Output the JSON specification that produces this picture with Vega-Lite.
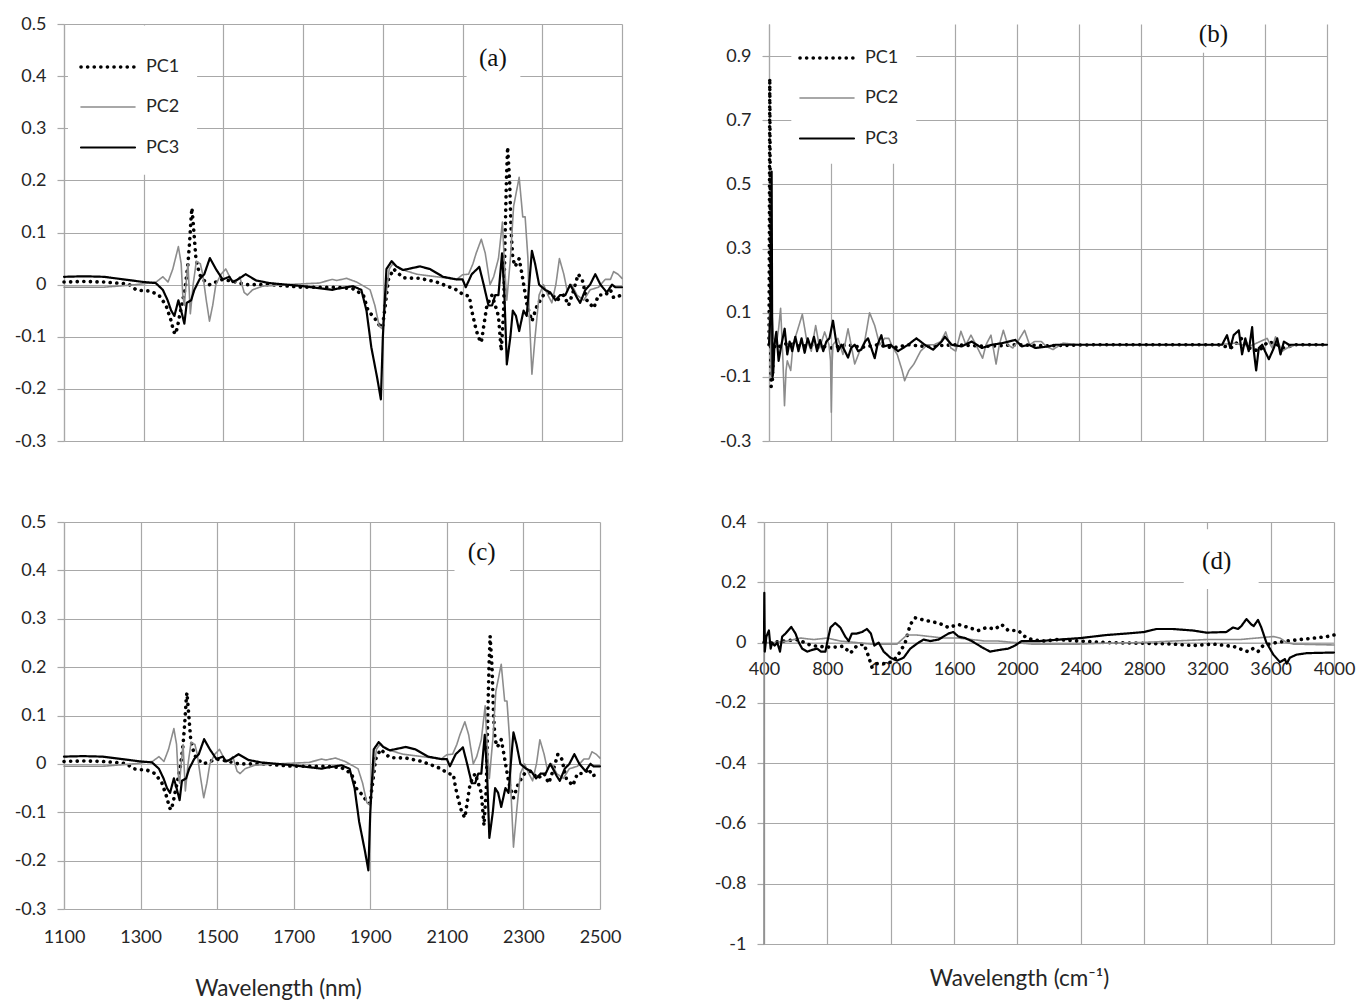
{
  "$schema": "https://vega.github.io/schema/vega-lite/v6.json",
  "background": "white",
  "padding": {"left": 14, "top": 15, "right": 5, "bottom": 5},
  "config": {
    "view": {"stroke": null},
    "axis": {
      "gridColor": "#a8a8a8", "gridWidth": 1.2, "domainColor": "#a8a8a8", "domainWidth": 1.2,
      "tickColor": "#a8a8a8", "tickWidth": 1.2, "labelFlush": false,
      "labelFont": "Lato", "labelFontSize": 18, "labelColor": "#262626",
      "titleFont": "Lato", "titleFontSize": 22.5, "titleFontWeight": "normal", "titleColor": "#262626"
    },
    "legend": {"labelFont": "Lato", "labelFontSize": 18, "labelColor": "#262626"},
    "text": {"font": "Liberation Serif", "fontSize": 25, "color": "#111"}
  },
  "datasets": {
    "nir": [
      {"x":1100,"v":0.005,"pc":"PC1"},{"x":1150,"v":0.006,"pc":"PC1"},{"x":1200,"v":0.005,"pc":"PC1"},{"x":1250,"v":0.002,"pc":"PC1"},{"x":1264,"v":0.0,"pc":"PC1"},{"x":1281,"v":-0.01,"pc":"PC1"},{"x":1300,"v":-0.012,"pc":"PC1"},{"x":1314,"v":-0.012,"pc":"PC1"},{"x":1338,"v":-0.02,"pc":"PC1"},{"x":1356,"v":-0.04,"pc":"PC1"},{"x":1369,"v":-0.07,"pc":"PC1"},{"x":1375,"v":-0.09,"pc":"PC1"},{"x":1380,"v":-0.095,"pc":"PC1"},{"x":1385,"v":-0.08,"pc":"PC1"},{"x":1390,"v":-0.06,"pc":"PC1"},{"x":1398,"v":-0.03,"pc":"PC1"},{"x":1405,"v":0.0,"pc":"PC1"},{"x":1411,"v":0.04,"pc":"PC1"},{"x":1415,"v":0.08,"pc":"PC1"},{"x":1419,"v":0.13,"pc":"PC1"},{"x":1421,"v":0.147,"pc":"PC1"},{"x":1424,"v":0.12,"pc":"PC1"},{"x":1427,"v":0.09,"pc":"PC1"},{"x":1431,"v":0.05,"pc":"PC1"},{"x":1440,"v":0.02,"pc":"PC1"},{"x":1448,"v":0.01,"pc":"PC1"},{"x":1465,"v":0.0,"pc":"PC1"},{"x":1481,"v":0.005,"pc":"PC1"},{"x":1498,"v":0.01,"pc":"PC1"},{"x":1531,"v":0.005,"pc":"PC1"},{"x":1556,"v":0.0,"pc":"PC1"},{"x":1615,"v":0.0,"pc":"PC1"},{"x":1698,"v":-0.005,"pc":"PC1"},{"x":1784,"v":-0.005,"pc":"PC1"},{"x":1825,"v":-0.008,"pc":"PC1"},{"x":1851,"v":-0.02,"pc":"PC1"},{"x":1863,"v":-0.05,"pc":"PC1"},{"x":1880,"v":-0.065,"pc":"PC1"},{"x":1893,"v":-0.08,"pc":"PC1"},{"x":1899,"v":-0.082,"pc":"PC1"},{"x":1906,"v":-0.04,"pc":"PC1"},{"x":1914,"v":0.01,"pc":"PC1"},{"x":1927,"v":0.03,"pc":"PC1"},{"x":1951,"v":0.013,"pc":"PC1"},{"x":1993,"v":0.012,"pc":"PC1"},{"x":2035,"v":0.005,"pc":"PC1"},{"x":2068,"v":-0.005,"pc":"PC1"},{"x":2085,"v":-0.01,"pc":"PC1"},{"x":2103,"v":-0.02,"pc":"PC1"},{"x":2117,"v":-0.022,"pc":"PC1"},{"x":2123,"v":-0.05,"pc":"PC1"},{"x":2132,"v":-0.08,"pc":"PC1"},{"x":2139,"v":-0.1,"pc":"PC1"},{"x":2147,"v":-0.111,"pc":"PC1"},{"x":2153,"v":-0.08,"pc":"PC1"},{"x":2161,"v":-0.04,"pc":"PC1"},{"x":2174,"v":-0.02,"pc":"PC1"},{"x":2182,"v":-0.04,"pc":"PC1"},{"x":2190,"v":-0.06,"pc":"PC1"},{"x":2197,"v":-0.127,"pc":"PC1"},{"x":2203,"v":-0.05,"pc":"PC1"},{"x":2207,"v":0.1,"pc":"PC1"},{"x":2210,"v":0.2,"pc":"PC1"},{"x":2213,"v":0.264,"pc":"PC1"},{"x":2218,"v":0.2,"pc":"PC1"},{"x":2222,"v":0.1,"pc":"PC1"},{"x":2226,"v":0.05,"pc":"PC1"},{"x":2232,"v":0.035,"pc":"PC1"},{"x":2242,"v":0.05,"pc":"PC1"},{"x":2249,"v":0.02,"pc":"PC1"},{"x":2262,"v":-0.04,"pc":"PC1"},{"x":2274,"v":-0.07,"pc":"PC1"},{"x":2287,"v":-0.04,"pc":"PC1"},{"x":2303,"v":-0.02,"pc":"PC1"},{"x":2320,"v":-0.015,"pc":"PC1"},{"x":2337,"v":-0.03,"pc":"PC1"},{"x":2354,"v":-0.02,"pc":"PC1"},{"x":2366,"v":-0.04,"pc":"PC1"},{"x":2379,"v":-0.01,"pc":"PC1"},{"x":2390,"v":0.02,"pc":"PC1"},{"x":2400,"v":0.01,"pc":"PC1"},{"x":2412,"v":-0.03,"pc":"PC1"},{"x":2429,"v":-0.045,"pc":"PC1"},{"x":2441,"v":-0.02,"pc":"PC1"},{"x":2458,"v":-0.02,"pc":"PC1"},{"x":2471,"v":-0.01,"pc":"PC1"},{"x":2479,"v":-0.025,"pc":"PC1"},{"x":2500,"v":-0.02,"pc":"PC1"},
      {"x":1100,"v":-0.005,"pc":"PC2"},{"x":1200,"v":-0.005,"pc":"PC2"},{"x":1281,"v":0.0,"pc":"PC2"},{"x":1331,"v":0.005,"pc":"PC2"},{"x":1348,"v":0.015,"pc":"PC2"},{"x":1361,"v":0.005,"pc":"PC2"},{"x":1373,"v":0.03,"pc":"PC2"},{"x":1387,"v":0.073,"pc":"PC2"},{"x":1394,"v":0.04,"pc":"PC2"},{"x":1398,"v":-0.02,"pc":"PC2"},{"x":1402,"v":-0.04,"pc":"PC2"},{"x":1406,"v":0.0,"pc":"PC2"},{"x":1411,"v":0.04,"pc":"PC2"},{"x":1417,"v":-0.056,"pc":"PC2"},{"x":1424,"v":0.0,"pc":"PC2"},{"x":1432,"v":0.045,"pc":"PC2"},{"x":1442,"v":0.04,"pc":"PC2"},{"x":1448,"v":0.02,"pc":"PC2"},{"x":1457,"v":-0.03,"pc":"PC2"},{"x":1465,"v":-0.07,"pc":"PC2"},{"x":1473,"v":-0.04,"pc":"PC2"},{"x":1481,"v":0.0,"pc":"PC2"},{"x":1494,"v":0.02,"pc":"PC2"},{"x":1506,"v":0.03,"pc":"PC2"},{"x":1519,"v":0.01,"pc":"PC2"},{"x":1531,"v":0.005,"pc":"PC2"},{"x":1541,"v":0.015,"pc":"PC2"},{"x":1552,"v":-0.015,"pc":"PC2"},{"x":1560,"v":-0.02,"pc":"PC2"},{"x":1573,"v":-0.01,"pc":"PC2"},{"x":1598,"v":-0.003,"pc":"PC2"},{"x":1656,"v":0.0,"pc":"PC2"},{"x":1740,"v":0.003,"pc":"PC2"},{"x":1773,"v":0.01,"pc":"PC2"},{"x":1784,"v":0.008,"pc":"PC2"},{"x":1809,"v":0.012,"pc":"PC2"},{"x":1834,"v":0.005,"pc":"PC2"},{"x":1868,"v":-0.01,"pc":"PC2"},{"x":1880,"v":-0.04,"pc":"PC2"},{"x":1891,"v":-0.08,"pc":"PC2"},{"x":1899,"v":-0.085,"pc":"PC2"},{"x":1908,"v":-0.02,"pc":"PC2"},{"x":1916,"v":0.03,"pc":"PC2"},{"x":1925,"v":0.04,"pc":"PC2"},{"x":1943,"v":0.03,"pc":"PC2"},{"x":1985,"v":0.02,"pc":"PC2"},{"x":2035,"v":0.015,"pc":"PC2"},{"x":2085,"v":0.01,"pc":"PC2"},{"x":2100,"v":0.019,"pc":"PC2"},{"x":2115,"v":0.02,"pc":"PC2"},{"x":2126,"v":0.04,"pc":"PC2"},{"x":2134,"v":0.06,"pc":"PC2"},{"x":2147,"v":0.087,"pc":"PC2"},{"x":2157,"v":0.06,"pc":"PC2"},{"x":2169,"v":0.0,"pc":"PC2"},{"x":2178,"v":0.015,"pc":"PC2"},{"x":2190,"v":0.05,"pc":"PC2"},{"x":2200,"v":0.12,"pc":"PC2"},{"x":2205,"v":0.04,"pc":"PC2"},{"x":2211,"v":-0.03,"pc":"PC2"},{"x":2220,"v":0.05,"pc":"PC2"},{"x":2228,"v":0.15,"pc":"PC2"},{"x":2242,"v":0.206,"pc":"PC2"},{"x":2251,"v":0.13,"pc":"PC2"},{"x":2257,"v":0.13,"pc":"PC2"},{"x":2264,"v":0.05,"pc":"PC2"},{"x":2267,"v":-0.05,"pc":"PC2"},{"x":2274,"v":-0.172,"pc":"PC2"},{"x":2282,"v":-0.1,"pc":"PC2"},{"x":2292,"v":-0.02,"pc":"PC2"},{"x":2303,"v":0.0,"pc":"PC2"},{"x":2314,"v":-0.02,"pc":"PC2"},{"x":2324,"v":-0.035,"pc":"PC2"},{"x":2334,"v":0.0,"pc":"PC2"},{"x":2343,"v":0.05,"pc":"PC2"},{"x":2354,"v":0.02,"pc":"PC2"},{"x":2362,"v":-0.01,"pc":"PC2"},{"x":2374,"v":0.0,"pc":"PC2"},{"x":2387,"v":-0.02,"pc":"PC2"},{"x":2404,"v":-0.03,"pc":"PC2"},{"x":2420,"v":-0.01,"pc":"PC2"},{"x":2441,"v":-0.005,"pc":"PC2"},{"x":2458,"v":0.01,"pc":"PC2"},{"x":2471,"v":0.01,"pc":"PC2"},{"x":2479,"v":0.025,"pc":"PC2"},{"x":2490,"v":0.02,"pc":"PC2"},{"x":2500,"v":0.012,"pc":"PC2"},
      {"x":1100,"v":0.015,"pc":"PC3"},{"x":1150,"v":0.016,"pc":"PC3"},{"x":1200,"v":0.015,"pc":"PC3"},{"x":1250,"v":0.01,"pc":"PC3"},{"x":1300,"v":0.005,"pc":"PC3"},{"x":1330,"v":0.003,"pc":"PC3"},{"x":1348,"v":-0.01,"pc":"PC3"},{"x":1360,"v":-0.03,"pc":"PC3"},{"x":1369,"v":-0.05,"pc":"PC3"},{"x":1377,"v":-0.06,"pc":"PC3"},{"x":1387,"v":-0.03,"pc":"PC3"},{"x":1394,"v":-0.05,"pc":"PC3"},{"x":1402,"v":-0.075,"pc":"PC3"},{"x":1408,"v":-0.035,"pc":"PC3"},{"x":1419,"v":-0.03,"pc":"PC3"},{"x":1427,"v":-0.01,"pc":"PC3"},{"x":1440,"v":0.01,"pc":"PC3"},{"x":1452,"v":0.02,"pc":"PC3"},{"x":1466,"v":0.051,"pc":"PC3"},{"x":1481,"v":0.03,"pc":"PC3"},{"x":1498,"v":0.01,"pc":"PC3"},{"x":1515,"v":0.015,"pc":"PC3"},{"x":1523,"v":0.005,"pc":"PC3"},{"x":1536,"v":0.01,"pc":"PC3"},{"x":1556,"v":0.02,"pc":"PC3"},{"x":1582,"v":0.008,"pc":"PC3"},{"x":1615,"v":0.003,"pc":"PC3"},{"x":1657,"v":0.0,"pc":"PC3"},{"x":1700,"v":-0.003,"pc":"PC3"},{"x":1773,"v":-0.01,"pc":"PC3"},{"x":1784,"v":-0.008,"pc":"PC3"},{"x":1825,"v":-0.003,"pc":"PC3"},{"x":1846,"v":-0.01,"pc":"PC3"},{"x":1859,"v":-0.05,"pc":"PC3"},{"x":1871,"v":-0.12,"pc":"PC3"},{"x":1886,"v":-0.18,"pc":"PC3"},{"x":1895,"v":-0.22,"pc":"PC3"},{"x":1900,"v":-0.1,"pc":"PC3"},{"x":1909,"v":0.03,"pc":"PC3"},{"x":1922,"v":0.045,"pc":"PC3"},{"x":1934,"v":0.035,"pc":"PC3"},{"x":1951,"v":0.028,"pc":"PC3"},{"x":1993,"v":0.035,"pc":"PC3"},{"x":2018,"v":0.03,"pc":"PC3"},{"x":2051,"v":0.015,"pc":"PC3"},{"x":2085,"v":0.01,"pc":"PC3"},{"x":2100,"v":0.01,"pc":"PC3"},{"x":2108,"v":-0.005,"pc":"PC3"},{"x":2123,"v":0.02,"pc":"PC3"},{"x":2142,"v":0.034,"pc":"PC3"},{"x":2153,"v":0.0,"pc":"PC3"},{"x":2165,"v":-0.04,"pc":"PC3"},{"x":2174,"v":-0.04,"pc":"PC3"},{"x":2182,"v":-0.02,"pc":"PC3"},{"x":2190,"v":-0.02,"pc":"PC3"},{"x":2199,"v":0.06,"pc":"PC3"},{"x":2205,"v":-0.02,"pc":"PC3"},{"x":2211,"v":-0.153,"pc":"PC3"},{"x":2220,"v":-0.1,"pc":"PC3"},{"x":2226,"v":-0.05,"pc":"PC3"},{"x":2234,"v":-0.06,"pc":"PC3"},{"x":2242,"v":-0.089,"pc":"PC3"},{"x":2253,"v":-0.05,"pc":"PC3"},{"x":2261,"v":-0.06,"pc":"PC3"},{"x":2267,"v":0.0,"pc":"PC3"},{"x":2274,"v":0.065,"pc":"PC3"},{"x":2282,"v":0.04,"pc":"PC3"},{"x":2292,"v":0.0,"pc":"PC3"},{"x":2307,"v":-0.01,"pc":"PC3"},{"x":2320,"v":-0.015,"pc":"PC3"},{"x":2333,"v":-0.03,"pc":"PC3"},{"x":2345,"v":-0.02,"pc":"PC3"},{"x":2358,"v":-0.02,"pc":"PC3"},{"x":2370,"v":0.0,"pc":"PC3"},{"x":2377,"v":-0.01,"pc":"PC3"},{"x":2387,"v":-0.025,"pc":"PC3"},{"x":2395,"v":-0.035,"pc":"PC3"},{"x":2408,"v":-0.01,"pc":"PC3"},{"x":2420,"v":0.0,"pc":"PC3"},{"x":2433,"v":0.02,"pc":"PC3"},{"x":2446,"v":0.0,"pc":"PC3"},{"x":2462,"v":-0.015,"pc":"PC3"},{"x":2475,"v":0.0,"pc":"PC3"},{"x":2483,"v":-0.005,"pc":"PC3"},{"x":2500,"v":-0.005,"pc":"PC3"}
    ],
    "mirb": [
      {"x":400,"v":0.0,"pc":"PC1"},{"x":402,"v":0.3,"pc":"PC1"},{"x":405,"v":0.83,"pc":"PC1"},{"x":408,"v":0.5,"pc":"PC1"},{"x":411,"v":0.0,"pc":"PC1"},{"x":414,"v":-0.13,"pc":"PC1"},{"x":418,"v":-0.08,"pc":"PC1"},{"x":422,"v":-0.11,"pc":"PC1"},{"x":428,"v":-0.02,"pc":"PC1"},{"x":440,"v":0.0,"pc":"PC1"},{"x":470,"v":-0.005,"pc":"PC1"},{"x":520,"v":0.005,"pc":"PC1"},{"x":600,"v":-0.005,"pc":"PC1"},{"x":700,"v":0.0,"pc":"PC1"},{"x":800,"v":-0.01,"pc":"PC1"},{"x":900,"v":0.0,"pc":"PC1"},{"x":1000,"v":-0.008,"pc":"PC1"},{"x":1100,"v":0.0,"pc":"PC1"},{"x":1200,"v":-0.01,"pc":"PC1"},{"x":1300,"v":0.0,"pc":"PC1"},{"x":1400,"v":-0.005,"pc":"PC1"},{"x":1600,"v":0.0,"pc":"PC1"},{"x":1800,"v":-0.005,"pc":"PC1"},{"x":2000,"v":0.0,"pc":"PC1"},{"x":2200,"v":-0.003,"pc":"PC1"},{"x":2500,"v":0.0,"pc":"PC1"},{"x":3000,"v":0.0,"pc":"PC1"},{"x":3300,"v":0.0,"pc":"PC1"},{"x":3380,"v":-0.01,"pc":"PC1"},{"x":3450,"v":0.02,"pc":"PC1"},{"x":3500,"v":-0.01,"pc":"PC1"},{"x":3560,"v":-0.02,"pc":"PC1"},{"x":3620,"v":0.01,"pc":"PC1"},{"x":3680,"v":0.0,"pc":"PC1"},{"x":3720,"v":-0.01,"pc":"PC1"},{"x":3800,"v":0.0,"pc":"PC1"},{"x":4000,"v":0.0,"pc":"PC1"},
      {"x":400,"v":0.0,"pc":"PC2"},{"x":404,"v":0.1,"pc":"PC2"},{"x":408,"v":0.05,"pc":"PC2"},{"x":414,"v":-0.1,"pc":"PC2"},{"x":419,"v":0.1,"pc":"PC2"},{"x":430,"v":0.02,"pc":"PC2"},{"x":447,"v":0.0,"pc":"PC2"},{"x":462,"v":0.05,"pc":"PC2"},{"x":475,"v":0.114,"pc":"PC2"},{"x":490,"v":-0.05,"pc":"PC2"},{"x":500,"v":-0.19,"pc":"PC2"},{"x":510,"v":-0.08,"pc":"PC2"},{"x":518,"v":-0.05,"pc":"PC2"},{"x":540,"v":-0.08,"pc":"PC2"},{"x":555,"v":0.0,"pc":"PC2"},{"x":587,"v":0.05,"pc":"PC2"},{"x":615,"v":0.095,"pc":"PC2"},{"x":641,"v":0.02,"pc":"PC2"},{"x":673,"v":-0.02,"pc":"PC2"},{"x":701,"v":0.06,"pc":"PC2"},{"x":727,"v":-0.01,"pc":"PC2"},{"x":759,"v":0.04,"pc":"PC2"},{"x":787,"v":0.0,"pc":"PC2"},{"x":797,"v":-0.05,"pc":"PC2"},{"x":802,"v":-0.21,"pc":"PC2"},{"x":808,"v":-0.05,"pc":"PC2"},{"x":813,"v":0.0,"pc":"PC2"},{"x":845,"v":0.02,"pc":"PC2"},{"x":877,"v":-0.03,"pc":"PC2"},{"x":910,"v":0.05,"pc":"PC2"},{"x":953,"v":-0.06,"pc":"PC2"},{"x":985,"v":-0.02,"pc":"PC2"},{"x":1017,"v":0.01,"pc":"PC2"},{"x":1049,"v":0.1,"pc":"PC2"},{"x":1082,"v":0.06,"pc":"PC2"},{"x":1114,"v":0.0,"pc":"PC2"},{"x":1146,"v":0.02,"pc":"PC2"},{"x":1173,"v":0.02,"pc":"PC2"},{"x":1200,"v":-0.01,"pc":"PC2"},{"x":1227,"v":-0.03,"pc":"PC2"},{"x":1259,"v":-0.08,"pc":"PC2"},{"x":1275,"v":-0.112,"pc":"PC2"},{"x":1303,"v":-0.08,"pc":"PC2"},{"x":1335,"v":-0.06,"pc":"PC2"},{"x":1378,"v":-0.02,"pc":"PC2"},{"x":1421,"v":0.0,"pc":"PC2"},{"x":1465,"v":0.0,"pc":"PC2"},{"x":1508,"v":0.01,"pc":"PC2"},{"x":1540,"v":0.04,"pc":"PC2"},{"x":1573,"v":-0.01,"pc":"PC2"},{"x":1605,"v":-0.02,"pc":"PC2"},{"x":1638,"v":0.042,"pc":"PC2"},{"x":1670,"v":0.0,"pc":"PC2"},{"x":1703,"v":0.03,"pc":"PC2"},{"x":1735,"v":0.0,"pc":"PC2"},{"x":1778,"v":-0.042,"pc":"PC2"},{"x":1800,"v":0.0,"pc":"PC2"},{"x":1832,"v":0.03,"pc":"PC2"},{"x":1865,"v":-0.06,"pc":"PC2"},{"x":1886,"v":0.0,"pc":"PC2"},{"x":1912,"v":0.045,"pc":"PC2"},{"x":1940,"v":0.0,"pc":"PC2"},{"x":1973,"v":-0.01,"pc":"PC2"},{"x":2005,"v":0.01,"pc":"PC2"},{"x":2049,"v":0.045,"pc":"PC2"},{"x":2081,"v":0.0,"pc":"PC2"},{"x":2113,"v":0.01,"pc":"PC2"},{"x":2157,"v":0.01,"pc":"PC2"},{"x":2189,"v":-0.005,"pc":"PC2"},{"x":2232,"v":-0.015,"pc":"PC2"},{"x":2297,"v":0.005,"pc":"PC2"},{"x":2400,"v":0.0,"pc":"PC2"},{"x":3300,"v":0.0,"pc":"PC2"},{"x":3400,"v":0.005,"pc":"PC2"},{"x":3500,"v":-0.005,"pc":"PC2"},{"x":3614,"v":0.02,"pc":"PC2"},{"x":3646,"v":-0.01,"pc":"PC2"},{"x":3668,"v":0.025,"pc":"PC2"},{"x":3711,"v":-0.02,"pc":"PC2"},{"x":3743,"v":-0.01,"pc":"PC2"},{"x":3800,"v":0.0,"pc":"PC2"},{"x":4000,"v":0.0,"pc":"PC2"},
      {"x":400,"v":0.0,"pc":"PC3"},{"x":410,"v":0.1,"pc":"PC3"},{"x":417,"v":0.54,"pc":"PC3"},{"x":420,"v":0.1,"pc":"PC3"},{"x":423,"v":-0.1,"pc":"PC3"},{"x":428,"v":-0.08,"pc":"PC3"},{"x":435,"v":0.0,"pc":"PC3"},{"x":447,"v":0.04,"pc":"PC3"},{"x":462,"v":-0.05,"pc":"PC3"},{"x":480,"v":0.0,"pc":"PC3"},{"x":501,"v":0.05,"pc":"PC3"},{"x":518,"v":-0.03,"pc":"PC3"},{"x":533,"v":0.01,"pc":"PC3"},{"x":550,"v":-0.02,"pc":"PC3"},{"x":570,"v":0.025,"pc":"PC3"},{"x":590,"v":-0.02,"pc":"PC3"},{"x":610,"v":0.02,"pc":"PC3"},{"x":630,"v":-0.025,"pc":"PC3"},{"x":650,"v":0.02,"pc":"PC3"},{"x":670,"v":-0.01,"pc":"PC3"},{"x":690,"v":0.025,"pc":"PC3"},{"x":710,"v":-0.02,"pc":"PC3"},{"x":730,"v":0.015,"pc":"PC3"},{"x":750,"v":-0.02,"pc":"PC3"},{"x":770,"v":0.01,"pc":"PC3"},{"x":790,"v":0.02,"pc":"PC3"},{"x":813,"v":0.075,"pc":"PC3"},{"x":830,"v":0.02,"pc":"PC3"},{"x":845,"v":-0.02,"pc":"PC3"},{"x":867,"v":0.0,"pc":"PC3"},{"x":890,"v":-0.02,"pc":"PC3"},{"x":910,"v":-0.04,"pc":"PC3"},{"x":930,"v":-0.01,"pc":"PC3"},{"x":953,"v":0.0,"pc":"PC3"},{"x":975,"v":-0.02,"pc":"PC3"},{"x":996,"v":-0.015,"pc":"PC3"},{"x":1020,"v":0.01,"pc":"PC3"},{"x":1039,"v":0.02,"pc":"PC3"},{"x":1060,"v":-0.01,"pc":"PC3"},{"x":1082,"v":-0.042,"pc":"PC3"},{"x":1100,"v":0.0,"pc":"PC3"},{"x":1125,"v":0.03,"pc":"PC3"},{"x":1141,"v":-0.005,"pc":"PC3"},{"x":1184,"v":0.0,"pc":"PC3"},{"x":1232,"v":-0.02,"pc":"PC3"},{"x":1297,"v":0.0,"pc":"PC3"},{"x":1351,"v":0.02,"pc":"PC3"},{"x":1405,"v":0.0,"pc":"PC3"},{"x":1459,"v":-0.015,"pc":"PC3"},{"x":1514,"v":0.01,"pc":"PC3"},{"x":1535,"v":0.025,"pc":"PC3"},{"x":1578,"v":0.0,"pc":"PC3"},{"x":1643,"v":-0.005,"pc":"PC3"},{"x":1708,"v":0.01,"pc":"PC3"},{"x":1773,"v":-0.01,"pc":"PC3"},{"x":1838,"v":0.0,"pc":"PC3"},{"x":1903,"v":0.005,"pc":"PC3"},{"x":1989,"v":0.015,"pc":"PC3"},{"x":2032,"v":-0.005,"pc":"PC3"},{"x":2076,"v":0.0,"pc":"PC3"},{"x":2119,"v":-0.01,"pc":"PC3"},{"x":2205,"v":-0.005,"pc":"PC3"},{"x":2248,"v":0.0,"pc":"PC3"},{"x":3323,"v":0.0,"pc":"PC3"},{"x":3355,"v":0.03,"pc":"PC3"},{"x":3376,"v":-0.01,"pc":"PC3"},{"x":3398,"v":0.03,"pc":"PC3"},{"x":3431,"v":0.045,"pc":"PC3"},{"x":3452,"v":-0.03,"pc":"PC3"},{"x":3473,"v":0.02,"pc":"PC3"},{"x":3495,"v":-0.02,"pc":"PC3"},{"x":3517,"v":0.055,"pc":"PC3"},{"x":3528,"v":-0.02,"pc":"PC3"},{"x":3543,"v":-0.08,"pc":"PC3"},{"x":3560,"v":-0.01,"pc":"PC3"},{"x":3582,"v":0.0,"pc":"PC3"},{"x":3600,"v":-0.02,"pc":"PC3"},{"x":3625,"v":-0.045,"pc":"PC3"},{"x":3657,"v":-0.01,"pc":"PC3"},{"x":3679,"v":0.02,"pc":"PC3"},{"x":3700,"v":-0.03,"pc":"PC3"},{"x":3722,"v":0.01,"pc":"PC3"},{"x":3754,"v":0.0,"pc":"PC3"},{"x":4000,"v":0.0,"pc":"PC3"}
    ],
    "mird": [
      {"x":400,"v":0.0,"pc":"PC1"},{"x":440,"v":0.0,"pc":"PC1"},{"x":520,"v":0.005,"pc":"PC1"},{"x":610,"v":0.01,"pc":"PC1"},{"x":700,"v":-0.01,"pc":"PC1"},{"x":799,"v":-0.015,"pc":"PC1"},{"x":850,"v":-0.015,"pc":"PC1"},{"x":900,"v":-0.012,"pc":"PC1"},{"x":946,"v":-0.035,"pc":"PC1"},{"x":987,"v":-0.01,"pc":"PC1"},{"x":1030,"v":-0.005,"pc":"PC1"},{"x":1050,"v":-0.03,"pc":"PC1"},{"x":1082,"v":-0.082,"pc":"PC1"},{"x":1113,"v":-0.07,"pc":"PC1"},{"x":1177,"v":-0.07,"pc":"PC1"},{"x":1219,"v":-0.06,"pc":"PC1"},{"x":1261,"v":-0.03,"pc":"PC1"},{"x":1292,"v":0.0,"pc":"PC1"},{"x":1324,"v":0.06,"pc":"PC1"},{"x":1355,"v":0.082,"pc":"PC1"},{"x":1408,"v":0.075,"pc":"PC1"},{"x":1450,"v":0.07,"pc":"PC1"},{"x":1502,"v":0.065,"pc":"PC1"},{"x":1565,"v":0.05,"pc":"PC1"},{"x":1628,"v":0.06,"pc":"PC1"},{"x":1691,"v":0.05,"pc":"PC1"},{"x":1754,"v":0.04,"pc":"PC1"},{"x":1806,"v":0.05,"pc":"PC1"},{"x":1859,"v":0.045,"pc":"PC1"},{"x":1901,"v":0.06,"pc":"PC1"},{"x":1943,"v":0.04,"pc":"PC1"},{"x":2006,"v":0.04,"pc":"PC1"},{"x":2048,"v":0.02,"pc":"PC1"},{"x":2090,"v":0.01,"pc":"PC1"},{"x":2174,"v":0.005,"pc":"PC1"},{"x":2246,"v":0.01,"pc":"PC1"},{"x":2394,"v":0.005,"pc":"PC1"},{"x":2562,"v":0.0,"pc":"PC1"},{"x":2773,"v":-0.002,"pc":"PC1"},{"x":2983,"v":-0.005,"pc":"PC1"},{"x":3109,"v":-0.01,"pc":"PC1"},{"x":3236,"v":-0.005,"pc":"PC1"},{"x":3320,"v":-0.01,"pc":"PC1"},{"x":3383,"v":-0.015,"pc":"PC1"},{"x":3425,"v":-0.025,"pc":"PC1"},{"x":3457,"v":-0.03,"pc":"PC1"},{"x":3488,"v":-0.02,"pc":"PC1"},{"x":3520,"v":-0.03,"pc":"PC1"},{"x":3552,"v":-0.01,"pc":"PC1"},{"x":3594,"v":-0.005,"pc":"PC1"},{"x":3636,"v":0.0,"pc":"PC1"},{"x":3701,"v":0.005,"pc":"PC1"},{"x":3785,"v":0.01,"pc":"PC1"},{"x":3873,"v":0.015,"pc":"PC1"},{"x":3957,"v":0.02,"pc":"PC1"},{"x":4000,"v":0.025,"pc":"PC1"},
      {"x":400,"v":-1.0,"pc":"PC2"},{"x":401,"v":0.08,"pc":"PC2"},{"x":404,"v":0.0,"pc":"PC2"},{"x":463,"v":0.0,"pc":"PC2"},{"x":547,"v":0.005,"pc":"PC2"},{"x":631,"v":0.015,"pc":"PC2"},{"x":715,"v":0.01,"pc":"PC2"},{"x":799,"v":0.015,"pc":"PC2"},{"x":882,"v":0.005,"pc":"PC2"},{"x":987,"v":0.0,"pc":"PC2"},{"x":1071,"v":-0.005,"pc":"PC2"},{"x":1240,"v":-0.005,"pc":"PC2"},{"x":1271,"v":0.01,"pc":"PC2"},{"x":1303,"v":0.025,"pc":"PC2"},{"x":1366,"v":0.025,"pc":"PC2"},{"x":1450,"v":0.02,"pc":"PC2"},{"x":1534,"v":0.015,"pc":"PC2"},{"x":1628,"v":0.015,"pc":"PC2"},{"x":1712,"v":0.01,"pc":"PC2"},{"x":1796,"v":0.005,"pc":"PC2"},{"x":1880,"v":0.005,"pc":"PC2"},{"x":1985,"v":0.0,"pc":"PC2"},{"x":2090,"v":-0.005,"pc":"PC2"},{"x":2394,"v":-0.005,"pc":"PC2"},{"x":2562,"v":-0.002,"pc":"PC2"},{"x":2773,"v":0.0,"pc":"PC2"},{"x":2983,"v":0.005,"pc":"PC2"},{"x":3194,"v":0.01,"pc":"PC2"},{"x":3404,"v":0.01,"pc":"PC2"},{"x":3510,"v":0.015,"pc":"PC2"},{"x":3617,"v":0.02,"pc":"PC2"},{"x":3659,"v":0.015,"pc":"PC2"},{"x":3701,"v":0.0,"pc":"PC2"},{"x":3743,"v":-0.005,"pc":"PC2"},{"x":4000,"v":-0.008,"pc":"PC2"},
      {"x":400,"v":0.0,"pc":"PC3"},{"x":402,"v":0.165,"pc":"PC3"},{"x":405,"v":-0.03,"pc":"PC3"},{"x":415,"v":0.02,"pc":"PC3"},{"x":431,"v":0.04,"pc":"PC3"},{"x":442,"v":-0.02,"pc":"PC3"},{"x":452,"v":0.0,"pc":"PC3"},{"x":467,"v":-0.01,"pc":"PC3"},{"x":484,"v":0.0,"pc":"PC3"},{"x":501,"v":-0.03,"pc":"PC3"},{"x":515,"v":0.02,"pc":"PC3"},{"x":536,"v":0.03,"pc":"PC3"},{"x":572,"v":0.052,"pc":"PC3"},{"x":599,"v":0.03,"pc":"PC3"},{"x":620,"v":0.0,"pc":"PC3"},{"x":641,"v":-0.02,"pc":"PC3"},{"x":673,"v":-0.03,"pc":"PC3"},{"x":700,"v":-0.025,"pc":"PC3"},{"x":735,"v":-0.02,"pc":"PC3"},{"x":760,"v":-0.03,"pc":"PC3"},{"x":788,"v":-0.03,"pc":"PC3"},{"x":799,"v":0.0,"pc":"PC3"},{"x":820,"v":0.05,"pc":"PC3"},{"x":850,"v":0.065,"pc":"PC3"},{"x":882,"v":0.05,"pc":"PC3"},{"x":913,"v":0.02,"pc":"PC3"},{"x":935,"v":0.005,"pc":"PC3"},{"x":955,"v":0.03,"pc":"PC3"},{"x":987,"v":0.03,"pc":"PC3"},{"x":1019,"v":0.035,"pc":"PC3"},{"x":1050,"v":0.045,"pc":"PC3"},{"x":1075,"v":0.03,"pc":"PC3"},{"x":1097,"v":-0.01,"pc":"PC3"},{"x":1124,"v":0.0,"pc":"PC3"},{"x":1156,"v":-0.03,"pc":"PC3"},{"x":1198,"v":-0.05,"pc":"PC3"},{"x":1240,"v":-0.06,"pc":"PC3"},{"x":1282,"v":-0.05,"pc":"PC3"},{"x":1324,"v":-0.02,"pc":"PC3"},{"x":1376,"v":0.0,"pc":"PC3"},{"x":1408,"v":0.01,"pc":"PC3"},{"x":1450,"v":0.005,"pc":"PC3"},{"x":1502,"v":0.01,"pc":"PC3"},{"x":1565,"v":0.03,"pc":"PC3"},{"x":1596,"v":0.035,"pc":"PC3"},{"x":1628,"v":0.02,"pc":"PC3"},{"x":1670,"v":0.015,"pc":"PC3"},{"x":1712,"v":0.005,"pc":"PC3"},{"x":1775,"v":-0.015,"pc":"PC3"},{"x":1827,"v":-0.03,"pc":"PC3"},{"x":1880,"v":-0.025,"pc":"PC3"},{"x":1943,"v":-0.02,"pc":"PC3"},{"x":1985,"v":-0.01,"pc":"PC3"},{"x":2027,"v":0.005,"pc":"PC3"},{"x":2090,"v":0.005,"pc":"PC3"},{"x":2141,"v":0.005,"pc":"PC3"},{"x":2267,"v":0.01,"pc":"PC3"},{"x":2400,"v":0.015,"pc":"PC3"},{"x":2562,"v":0.025,"pc":"PC3"},{"x":2688,"v":0.03,"pc":"PC3"},{"x":2800,"v":0.035,"pc":"PC3"},{"x":2878,"v":0.045,"pc":"PC3"},{"x":2983,"v":0.045,"pc":"PC3"},{"x":3109,"v":0.04,"pc":"PC3"},{"x":3194,"v":0.033,"pc":"PC3"},{"x":3320,"v":0.035,"pc":"PC3"},{"x":3362,"v":0.05,"pc":"PC3"},{"x":3394,"v":0.045,"pc":"PC3"},{"x":3415,"v":0.055,"pc":"PC3"},{"x":3447,"v":0.078,"pc":"PC3"},{"x":3478,"v":0.06,"pc":"PC3"},{"x":3493,"v":0.055,"pc":"PC3"},{"x":3520,"v":0.075,"pc":"PC3"},{"x":3541,"v":0.05,"pc":"PC3"},{"x":3573,"v":0.0,"pc":"PC3"},{"x":3617,"v":-0.04,"pc":"PC3"},{"x":3659,"v":-0.065,"pc":"PC3"},{"x":3690,"v":-0.055,"pc":"PC3"},{"x":3701,"v":-0.07,"pc":"PC3"},{"x":3722,"v":-0.05,"pc":"PC3"},{"x":3764,"v":-0.04,"pc":"PC3"},{"x":3830,"v":-0.035,"pc":"PC3"},{"x":4000,"v":-0.033,"pc":"PC3"}
    ]
  },
  "resolve": {"scale": {"color": "independent", "strokeDash": "independent", "strokeWidth": "independent"}, "legend": {"color": "independent", "strokeDash": "independent", "strokeWidth": "independent"}},
  "spacing": 63,
  "vconcat": [
    {
      "spacing": 95,
      "resolve": {"scale": {"color": "independent", "strokeDash": "independent", "strokeWidth": "independent"}, "legend": {"color": "independent", "strokeDash": "independent", "strokeWidth": "independent"}},
      "hconcat": [
        {
          "width": 558, "height": 417,
          "layer": [
            {
              "data": {"name": "nir"},
              "mark": {"type": "line", "strokeCap": "round", "strokeJoin": "round"},
              "encoding": {
                "x": {"field": "x", "type": "quantitative", "scale": {"domain": [1100, 2500], "nice": false, "zero": false},
                      "axis": {"values": [1100,1300,1500,1700,1900,2100,2300,2500], "labels": false, "ticks": false, "domain": false, "title": null}},
                "y": {"field": "v", "type": "quantitative", "scale": {"domain": [-0.3, 0.5], "nice": false, "zero": false},
                      "axis": {"values": [-0.3,-0.2,-0.1,0,0.1,0.2,0.3,0.4,0.5], "format": "~g", "labelExpr": "replace(datum.label, '−', '-')", "tickSize": 7, "labelPadding": 11, "title": null}},
                "color": {"field": "pc", "type": "nominal", "scale": {"domain": ["PC1","PC2","PC3"], "range": ["#000000","#8c8c8c","#000000"]},
                          "legend": {"title": null, "orient": "none", "legendX": 4, "legendY": 21, "padding": 11, "symbolType": "M-1,0H5", "symbolSize": 324, "labelOffset": 45, "rowPadding": 21,
                                     "encode": {"symbols": {"update": {"strokeCap": {"value": "round"}}}}}},
                "strokeDash": {"field": "pc", "type": "nominal", "scale": {"domain": ["PC1","PC2","PC3"], "range": [[0.1,6.5],[1,0],[1,0]]}},
                "strokeWidth": {"field": "pc", "type": "nominal", "scale": {"type": "ordinal", "domain": ["PC1","PC2","PC3"], "range": [3.6,1.6,2.2]}}
              }
            },
            {
              "data": {"values": [{"label": "legend"}]},
              "mark": {"type": "rect", "fill": "white"},
              "encoding": {"x": {"datum": 1110}, "x2": {"datum": 1434}, "y": {"datum": 0.497}, "y2": {"datum": 0.211}}
            },
            {
              "data": {"values": [{"label": "(a)"}]},
              "mark": {"type": "rect", "fill": "white"},
              "encoding": {"x": {"datum": 2110}, "x2": {"datum": 2245}, "y": {"datum": 0.475}, "y2": {"datum": 0.395}}
            },
            {
              "data": {"values": [{"label": "(a)"}]},
              "mark": {"type": "text"},
              "encoding": {"x": {"datum": 2176}, "y": {"datum": 0.435}, "text": {"field": "label"}}
            }
          ]
        },
        {
          "width": 558, "height": 417,
          "layer": [
            {
              "data": {"name": "mirb"},
              "mark": {"type": "line", "strokeCap": "round", "strokeJoin": "round"},
              "encoding": {
                "x": {"field": "x", "type": "quantitative", "scale": {"domain": [400, 4000], "nice": false, "zero": false},
                      "axis": {"values": [400,800,1200,1600,2000,2400,2800,3200,3600,4000], "labels": false, "ticks": false, "domain": false, "title": null}},
                "y": {"field": "v", "type": "quantitative", "scale": {"domain": [-0.3, 1.0], "nice": false, "zero": false},
                      "axis": {"values": [-0.3,-0.1,0.1,0.3,0.5,0.7,0.9], "format": "~g", "labelExpr": "replace(datum.label, '−', '-')", "tickSize": 7, "labelPadding": 11, "title": null}},
                "color": {"field": "pc", "type": "nominal", "scale": {"domain": ["PC1","PC2","PC3"], "range": ["#000000","#8c8c8c","#000000"]},
                          "legend": {"title": null, "orient": "none", "legendX": 18, "legendY": 12, "padding": 11, "symbolType": "M-1,0H5", "symbolSize": 324, "labelOffset": 45, "rowPadding": 21,
                                     "encode": {"symbols": {"update": {"strokeCap": {"value": "round"}}}}}},
                "strokeDash": {"field": "pc", "type": "nominal", "scale": {"domain": ["PC1","PC2","PC3"], "range": [[0.1,6.5],[1,0],[1,0]]}},
                "strokeWidth": {"field": "pc", "type": "nominal", "scale": {"type": "ordinal", "domain": ["PC1","PC2","PC3"], "range": [3.6,1.6,2.2]}}
              }
            },
            {
              "data": {"values": [{"label": "legend"}]},
              "mark": {"type": "rect", "fill": "white"},
              "encoding": {"x": {"datum": 544}, "x2": {"datum": 1350}, "y": {"datum": 1.0}, "y2": {"datum": 0.564}}
            },
            {
              "data": {"values": [{"label": "(b)"}]},
              "mark": {"type": "rect", "fill": "white"},
              "encoding": {"x": {"datum": 3030}, "x2": {"datum": 3520}, "y": {"datum": 1.0}, "y2": {"datum": 0.91}}
            },
            {
              "data": {"values": [{"label": "(b)"}]},
              "mark": {"type": "text"},
              "encoding": {"x": {"datum": 3267}, "y": {"datum": 0.97}, "text": {"field": "label"}}
            }
          ]
        }
      ]
    },
    {
      "spacing": 93,
      "resolve": {"scale": {"color": "independent", "strokeDash": "independent", "strokeWidth": "independent"}, "legend": {"color": "independent", "strokeDash": "independent", "strokeWidth": "independent"}},
      "hconcat": [
        {
          "width": 536, "height": 387,
          "layer": [
            {
              "data": {"name": "nir"},
              "mark": {"type": "line", "strokeCap": "round", "strokeJoin": "round"},
              "encoding": {
                "x": {"field": "x", "type": "quantitative", "scale": {"domain": [1100, 2500], "nice": false, "zero": false},
                      "axis": {"values": [1100,1300,1500,1700,1900,2100,2300,2500], "format": "d", "ticks": false, "domain": false, "labelPadding": 19,
                               "title": "Wavelength (nm)", "titleX": 214, "titleY": 79, "titleAlign": "center", "titleBaseline": "middle"}},
                "y": {"field": "v", "type": "quantitative", "scale": {"domain": [-0.3, 0.5], "nice": false, "zero": false},
                      "axis": {"values": [-0.3,-0.2,-0.1,0,0.1,0.2,0.3,0.4,0.5], "format": "~g", "labelExpr": "replace(datum.label, '−', '-')", "tickSize": 7, "labelPadding": 11, "title": null}},
                "color": {"field": "pc", "type": "nominal", "scale": {"domain": ["PC1","PC2","PC3"], "range": ["#000000","#8c8c8c","#000000"]}, "legend": null},
                "strokeDash": {"field": "pc", "type": "nominal", "scale": {"domain": ["PC1","PC2","PC3"], "range": [[0.1,6.5],[1,0],[1,0]]}, "legend": null},
                "strokeWidth": {"field": "pc", "type": "nominal", "scale": {"type": "ordinal", "domain": ["PC1","PC2","PC3"], "range": [3.6,1.6,2.2]}, "legend": null}
              }
            },
            {
              "data": {"values": [{"label": "(c)"}]},
              "mark": {"type": "rect", "fill": "white"},
              "encoding": {"x": {"datum": 2120}, "x2": {"datum": 2265}, "y": {"datum": 0.478}, "y2": {"datum": 0.398}}
            },
            {
              "data": {"values": [{"label": "(c)"}]},
              "mark": {"type": "text"},
              "encoding": {"x": {"datum": 2191}, "y": {"datum": 0.4375}, "text": {"field": "label"}}
            }
          ]
        },
        {
          "width": 570, "height": 422,
          "layer": [
            {
              "data": {"name": "mird"},
              "mark": {"type": "line", "strokeCap": "round", "strokeJoin": "round"},
              "encoding": {
                "x": {"field": "x", "type": "quantitative", "scale": {"domain": [400, 4000], "nice": false, "zero": false},
                      "axis": {"values": [400,800,1200,1600,2000,2400,2800,3200,3600,4000], "format": "d", "ticks": false, "domain": true, "offset": -301.4, "labelPadding": 18,
                               "title": "Wavelength (cm⁻¹)", "titleX": 255, "titleY": 336, "titleAlign": "center", "titleBaseline": "middle"}},
                "y": {"field": "v", "type": "quantitative", "scale": {"domain": [-1, 0.4], "nice": false, "zero": false},
                      "axis": {"values": [-1,-0.8,-0.6,-0.4,-0.2,0,0.2,0.4], "format": "~g", "labelExpr": "replace(datum.label, '−', '-')", "tickSize": 7, "labelPadding": 11, "title": null}},
                "color": {"field": "pc", "type": "nominal", "scale": {"domain": ["PC1","PC2","PC3"], "range": ["#000000","#8c8c8c","#000000"]}, "legend": null},
                "strokeDash": {"field": "pc", "type": "nominal", "scale": {"domain": ["PC1","PC2","PC3"], "range": [[0.1,6.5],[1,0],[1,0]]}, "legend": null},
                "strokeWidth": {"field": "pc", "type": "nominal", "scale": {"type": "ordinal", "domain": ["PC1","PC2","PC3"], "range": [3.6,1.6,2.2]}, "legend": null}
              }
            },
            {
              "data": {"values": [{"label": "(d)"}]},
              "mark": {"type": "rect", "fill": "white"},
              "encoding": {"x": {"datum": 3051}, "x2": {"datum": 3524}, "y": {"datum": 0.376}, "y2": {"datum": 0.178}}
            },
            {
              "data": {"values": [{"label": "(d)"}]},
              "mark": {"type": "text"},
              "encoding": {"x": {"datum": 3259}, "y": {"datum": 0.272}, "text": {"field": "label"}}
            }
          ]
        }
      ]
    }
  ]
}
